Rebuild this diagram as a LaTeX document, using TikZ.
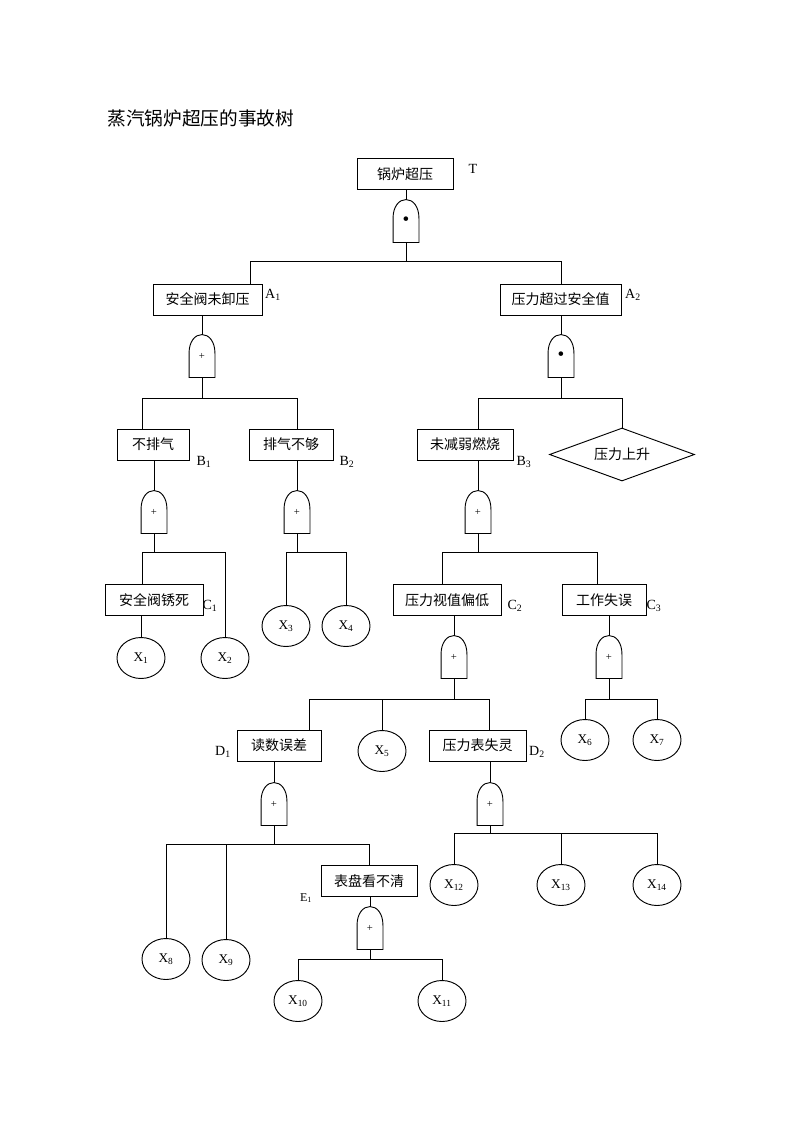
\documentclass[tikz,border=0pt]{standalone}
\usepackage{fontspec}
\setmainfont{Liberation Serif}
\newfontfamily\cjk{Noto Sans CJK SC}
\usepackage{tikz}
\usetikzlibrary{shapes.geometric}

\tikzset{
  event/.style={draw, rectangle, minimum width=#1*0.75pt, minimum height=23.25pt, inner sep=0pt, font=\cjk\fontsize{10.5}{12}\selectfont},
  basic/.style={draw, ellipse, minimum width=36pt, minimum height=30.75pt, inner sep=0pt, font=\fontsize{10}{12}\selectfont},
  gatebox/.style={rectangle, minimum width=18.75pt, minimum height=31.5pt, inner sep=0pt, font=\footnotesize},
  tag/.style={inner sep=0pt, font=\fontsize{10.5}{12}\selectfont},
}
\newcommand{\gateshape}[1]{%
  \draw (#1.south west) -- ([yshift=18pt]#1.south west) .. controls +(0,-12) and +(-7,0) .. (#1.north) .. controls +(7,0) and +(0,-12) .. ([yshift=18pt]#1.south east) -- (#1.south east) -- cycle;}
\newcommand{\anddot}{{\Large\textbullet}}

\begin{document}
\begin{tikzpicture}[x=0.75pt, y=-0.75pt, line width=0.7pt]
\useasboundingbox (0,0) rectangle (793,1122);

\node[anchor=west, inner sep=0pt, font=\cjk\fontsize{14}{16}\selectfont] (title) at (107,118) {蒸汽锅炉超压的事故树};

\node[event=96] (T) at (405,174) {锅炉超压};
\node[tag] (tT) at (473,169) {T};
\node[gatebox] (gT) at (406,221) {\anddot};
\gateshape{gT}
\draw (T.south -| gT) -- (gT.north);
\coordinate (bT1) at (250,261);
\coordinate (bT2) at (561,261);

\node[event=109] (A1) at (207.5,299.5) {安全阀未卸压};
\node[tag] (tA1) at (273,295) {A\textsubscript{1}};
\node[event=121] (A2) at (560.5,299.5) {压力超过安全值};
\node[tag] (tA2) at (633,295) {A\textsubscript{2}};
\draw (gT.south) -- (gT.south |- bT1);
\draw (bT1 |- A1.north) -- (bT1) -- (bT2) -- (bT2 |- A2.north);

\node[gatebox] (gA1) at (202,356) {+};
\gateshape{gA1}
\node[gatebox] (gA2) at (561,356) {\anddot};
\gateshape{gA2}
\draw (A1.south -| gA1) -- (gA1.north);
\draw (A2.south -| gA2) -- (gA2.north);
\coordinate (bA1l) at (142,398);
\coordinate (bA1r) at (297,398);
\coordinate (bA2l) at (478,398);
\coordinate (bA2r) at (622,398);

\node[event=72] (B1) at (153,444.5) {不排气};
\node[tag] (tB1) at (204,462) {B\textsubscript{1}};
\node[event=84] (B2) at (291,444.5) {排气不够};
\node[tag] (tB2) at (347,462) {B\textsubscript{2}};
\node[event=96] (B3) at (465,444.5) {未减弱燃烧};
\node[tag] (tB3) at (524,462) {B\textsubscript{3}};
\node[draw, diamond, aspect=2.7, minimum width=108.75pt, minimum height=39.75pt, inner sep=0pt, font=\cjk\fontsize{10.5}{12}\selectfont] (rise) at (622,454.5) {压力上升};
\draw (gA1.south) -- (gA1.south |- bA1l);
\draw (bA1l |- B1.north) -- (bA1l) -- (bA1r) -- (bA1r |- B2.north);
\draw (gA2.south) -- (gA2.south |- bA2l);
\draw (bA2l |- B3.north) -- (bA2l) -- (bA2r) -- (rise.north);

\node[gatebox] (gB1) at (154,512) {+};
\gateshape{gB1}
\node[gatebox] (gB2) at (297,512) {+};
\gateshape{gB2}
\node[gatebox] (gB3) at (478,512) {+};
\gateshape{gB3}
\draw (B1.south -| gB1) -- (gB1.north);
\draw (B2.south -| gB2) -- (gB2.north);
\draw (B3.south -| gB3) -- (gB3.north);
\coordinate (bB1l) at (142,552);
\coordinate (bB1r) at (225,552);
\coordinate (bB2l) at (286,552);
\coordinate (bB2r) at (346,552);
\coordinate (bB3l) at (442,552);
\coordinate (bB3r) at (597,552);

\node[event=98] (C1) at (154,600) {安全阀锈死};
\node[tag] (tC1) at (210,606) {C\textsubscript{1}};
\node[basic] (X1) at (141,658) {X\textsubscript{1}};
\node[basic] (X2) at (225,658) {X\textsubscript{2}};
\node[basic] (X3) at (286,626) {X\textsubscript{3}};
\node[basic] (X4) at (346,626) {X\textsubscript{4}};
\node[event=108] (C2) at (447,600) {压力视值偏低};
\node[tag] (tC2) at (515,606) {C\textsubscript{2}};
\node[event=84] (C3) at (604,600) {工作失误};
\node[tag] (tC3) at (654,606) {C\textsubscript{3}};
\draw (gB1.south) -- (gB1.south |- bB1l);
\draw (bB1l |- C1.north) -- (bB1l) -- (bB1r) -- (X2.north);
\draw (C1.south -| X1) -- (X1.north);
\draw (gB2.south) -- (gB2.south |- bB2l);
\draw (X3.north) -- (bB2l) -- (bB2r) -- (X4.north);
\draw (gB3.south) -- (gB3.south |- bB3l);
\draw (bB3l |- C2.north) -- (bB3l) -- (bB3r) -- (bB3r |- C3.north);

\node[gatebox] (gC2) at (454,657) {+};
\gateshape{gC2}
\node[gatebox] (gC3) at (609,657) {+};
\gateshape{gC3}
\draw (C2.south -| gC2) -- (gC2.north);
\draw (C3.south -| gC3) -- (gC3.north);
\coordinate (bC2l) at (309,699);
\coordinate (bC2r) at (489,699);
\coordinate (bC3l) at (585,699);
\coordinate (bC3r) at (657,699);

\node[event=84] (D1) at (279,745.5) {读数误差};
\node[tag] (tD1) at (223,752) {D\textsubscript{1}};
\node[basic] (X5) at (382,751) {X\textsubscript{5}};
\node[event=97] (D2) at (477.5,745.5) {压力表失灵};
\node[tag] (tD2) at (537,752) {D\textsubscript{2}};
\node[basic] (X6) at (585,740) {X\textsubscript{6}};
\node[basic] (X7) at (657,740) {X\textsubscript{7}};
\draw (gC2.south) -- (gC2.south |- bC2l);
\draw (bC2l |- D1.north) -- (bC2l) -- (bC2r) -- (bC2r |- D2.north);
\draw (X5.north) -- (X5.north |- bC2l);
\draw (gC3.south) -- (gC3.south |- bC3l);
\draw (X6.north) -- (bC3l) -- (bC3r) -- (X7.north);

\node[gatebox] (gD1) at (274,804) {+};
\gateshape{gD1}
\node[gatebox] (gD2) at (490,804) {+};
\gateshape{gD2}
\draw (D1.south -| gD1) -- (gD1.north);
\draw (D2.south -| gD2) -- (gD2.north);
\coordinate (bD1l) at (166,844);
\coordinate (bD1r) at (369,844);
\coordinate (bD2l) at (454,833);
\coordinate (bD2r) at (657,833);

\node[basic] (X8) at (166,959) {X\textsubscript{8}};
\node[basic] (X9) at (226,960) {X\textsubscript{9}};
\node[event=96] (E1) at (369,881) {表盘看不清};
\node[tag, font=\fontsize{9}{11}\selectfont] (tE1) at (306,898) {E\textsubscript{1}};
\node[basic] (X12) at (454,885) {X\textsubscript{12}};
\node[basic] (X13) at (561,885) {X\textsubscript{13}};
\node[basic] (X14) at (657,885) {X\textsubscript{14}};
\draw (gD1.south) -- (gD1.south |- bD1l);
\draw (X8.north) -- (bD1l) -- (bD1r) -- (E1.north);
\draw (X9.north) -- (X9.north |- bD1l);
\draw (gD2.south) -- (gD2.south |- bD2l);
\draw (X12.north) -- (bD2l) -- (bD2r) -- (X14.north);
\draw (X13.north) -- (X13.north |- bD2l);

\node[gatebox] (gE1) at (370,928) {+};
\gateshape{gE1}
\draw (E1.south -| gE1) -- (gE1.north);
\coordinate (bE1l) at (298,959);
\coordinate (bE1r) at (442,959);
\node[basic] (X10) at (298,1001) {X\textsubscript{10}};
\node[basic] (X11) at (442,1001) {X\textsubscript{11}};
\draw (gE1.south) -- (gE1.south |- bE1l);
\draw (X10.north) -- (bE1l) -- (bE1r) -- (X11.north);
\end{tikzpicture}
\end{document}
